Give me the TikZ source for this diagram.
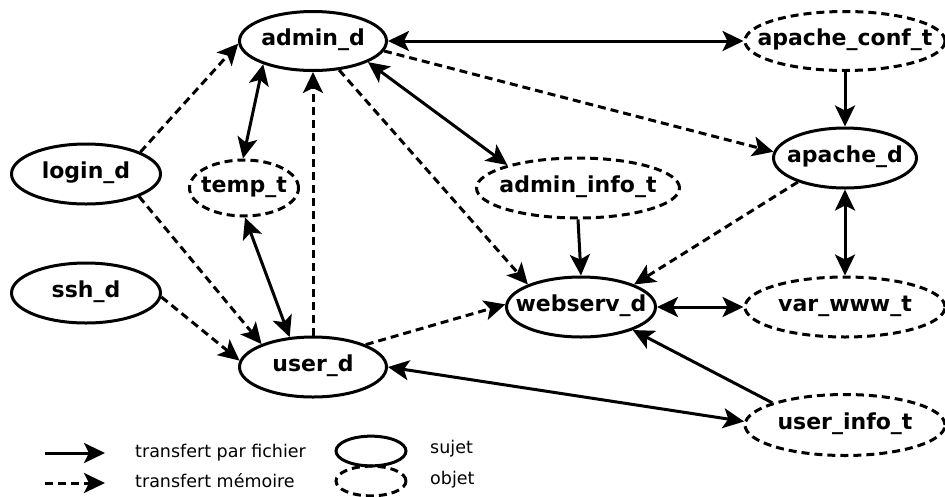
\documentclass[tikz,border=0pt]{standalone}
\usepackage{fontspec}
\setmainfont{DejaVu Sans}
\usetikzlibrary{shapes.geometric,arrows.meta}
\newcommand\nodetxt[1]{\makebox[0pt]{#1}}
\tikzset{
  sujet/.style={ellipse, draw, line width=3pt, inner sep=0pt,
    font=\bfseries\fontsize{22}{26}\selectfont, text height=15pt, text depth=6pt},
  objet/.style={sujet, dash pattern=on 8pt off 5pt},
  fic/.style={line width=3pt},
  mem/.style={line width=3pt, dash pattern=on 8pt off 5pt},
  legtxt/.style={anchor=base west, inner sep=0pt, font=\fontsize{17.5}{20}\selectfont},
  >={Stealth[length=21pt,width=20pt,inset=5pt]}
}
\begin{document}
\begin{tikzpicture}[x=1pt,y=-1pt]
\useasboundingbox (0,0) rectangle (945,496);
% nodes
\node[sujet, minimum width=147pt, minimum height=59pt] (admin) at (313,41) {\nodetxt{admin\_d}};
\node[objet, minimum width=200pt, minimum height=59pt] (aconf) at (845,41) {\nodetxt{apache\_conf\_t}};
\node[sujet, minimum width=149pt, minimum height=60pt] (login) at (86,174) {\nodetxt{login\_d}};
\node[objet, minimum width=109pt, minimum height=56pt] (temp) at (244,188) {\nodetxt{temp\_t}};
\node[objet, minimum width=203pt, minimum height=60pt] (ainfo) at (578,188) {\nodetxt{admin\_info\_t}};
\node[sujet, minimum width=143pt, minimum height=60pt] (apache) at (845,158) {\nodetxt{apache\_d}};
\node[sujet, minimum width=149pt, minimum height=60pt] (ssh) at (86,293) {\nodetxt{ssh\_d}};
\node[sujet, minimum width=149pt, minimum height=60pt] (web) at (581,307) {\nodetxt{webserv\_d}};
\node[objet, minimum width=200pt, minimum height=60pt] (www) at (845,307) {\nodetxt{var\_www\_t}};
\node[sujet, minimum width=147pt, minimum height=60pt] (user) at (313,367) {\nodetxt{user\_d}};
\node[objet, minimum width=200pt, minimum height=61pt] (uinfo) at (845,425) {\nodetxt{user\_info\_t}};
% edges
\draw[mem,->] (login.22) -- (admin.182);
\draw[fic,<->] (admin.205) -- (temp.92);
\draw[mem,->] (user.north) -- (admin.south);
\draw[mem,->] (admin.-48) -- (web.157);
\draw[fic,<->] (admin.-21) -- (ainfo.162);
\draw[fic,<->] (admin.0) -- (aconf.180);
\draw[mem,->] (admin.-8) -- (apache.175);
\draw[fic,->] (aconf.south) -- (apache.north);
\draw[mem,->] (apache.207) -- (web.23);
\draw[fic,<->] (apache.south) -- (www.north);
\draw[fic,->] (ainfo.south) -- (web.north);
\draw[fic,<->] (web.0) -- (www.180);
\draw[fic,->] (uinfo.163) -- (web.-24);
\draw[fic,<->] (user.0) -- (uinfo.178);
\draw[mem,->] (user.23) -- (web.178);
\draw[fic,<->] (temp.-88) -- (user.128);
\draw[mem,->] (login.-23) -- (user.156);
\draw[mem,->] (ssh.-3) -- (user.175);
% legend
\coordinate (l1a) at (45,453);
\coordinate (l1b) at (105,453);
\coordinate (l2a) at (45,483);
\coordinate (l2b) at (105,483);
\draw[fic,->] (l1a) -- (l1b);
\draw[mem,->] (l2a) -- (l2b);
\node[legtxt] (t1) at (135,457) {transfert par fichier};
\node[legtxt] (t2) at (135,487) {transfert mémoire};
\node[sujet, minimum width=70pt, minimum height=19pt] (ls) at (371,451) {};
\node[objet, minimum width=70pt, minimum height=19pt] (lo) at (371,481) {};
\node[legtxt] (t3) at (430,453) {sujet};
\node[legtxt] (t4) at (430,484) {objet};
\end{tikzpicture}
\end{document}
